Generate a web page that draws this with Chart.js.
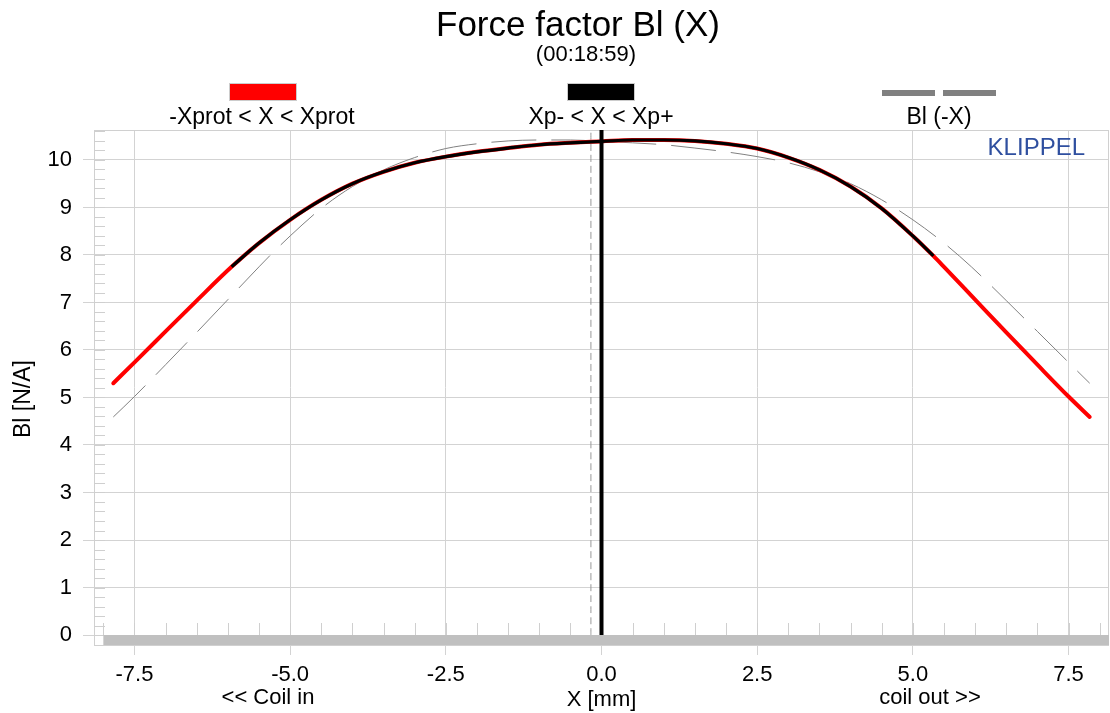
<!DOCTYPE html>
<html>
<head>
<meta charset="utf-8">
<script src="https://cdn.jsdelivr.net/npm/chart.js@4/dist/chart.umd.min.js"></script>
<style>
    html, body { margin: 0; padding: 0; background: #fff; }
</style>
</head>
<body>
<canvas id="chartBl" width="1110" height="713"></canvas>
<script>
const FONT = "'Liberation Sans', Arial, sans-serif";

// Bl(X) : déplacement (mm) et facteur de force (N/A)
const xMm = [-7.84, -7.5, -7.0, -6.5, -5.94, -5.5, -5.0, -4.5, -4.0, -3.5, -3.0, -2.5, -2.0, -1.5, -1.0, -0.5,
    0.0, 0.5, 1.0, 1.5, 2.0, 2.5, 3.0, 3.5, 4.0, 4.5, 5.0, 5.33, 5.5, 6.0, 6.5, 7.0, 7.5, 7.84];
const blValues = [5.30, 5.74, 6.39, 7.04, 7.75, 8.25, 8.74, 9.16, 9.50, 9.75, 9.94, 10.07, 10.17, 10.25, 10.32, 10.36,
    10.39, 10.42, 10.42, 10.40, 10.34, 10.24, 10.05, 9.79, 9.44, 8.98, 8.40, 7.98, 7.75, 7.06, 6.37, 5.69, 5.02, 4.59];

// Bl(-X) : courbe miroir
const xMirror = [-7.84, -7.5, -7.0, -6.5, -6.0, -5.5, -5.33, -5.0, -4.5, -4.0, -3.5, -3.0, -2.5, -2.0, -1.5, -1.0, -0.5,
    0.0, 0.5, 1.0, 1.5, 2.0, 2.5, 3.0, 3.5, 4.0, 4.5, 5.0, 5.5, 5.94, 6.5, 7.0, 7.5, 7.84];
const blMirror = [4.59, 5.02, 5.69, 6.37, 7.06, 7.75, 7.98, 8.40, 8.98, 9.44, 9.79, 10.05, 10.24, 10.34, 10.40, 10.42, 10.42,
    10.39, 10.36, 10.32, 10.25, 10.17, 10.07, 9.94, 9.75, 9.50, 9.16, 8.74, 8.25, 7.75, 7.04, 6.39, 5.74, 5.30];

const xpMinus = -5.94;
const xpPlus = 5.33;
const xRest = 0.0;
const xShift = -0.17;

const xTicks = [-7.5, -5.0, -2.5, 0.0, 2.5, 5.0, 7.5];
const yTicks = [0, 1, 2, 3, 4, 5, 6, 7, 8, 9, 10];
const xRange = [-8.15, 8.15];
const yRange = [-0.21, 10.63];

const curve = xMm.map((x, i) => ({ x: x, y: blValues[i] }));
const xpCurve = curve.filter(p => p.x >= xpMinus && p.x <= xpPlus);
const mirrorCurve = xMirror.map((x, i) => ({ x: x, y: blMirror[i] }));

const common = { showLine: true, pointRadius: 0, fill: false, cubicInterpolationMode: "monotone" };

// décor : cadre, petites graduations, bande grise, textes
const decor = {
    id: "decor",
    beforeDatasetsDraw(chart) {
        const { ctx, chartArea: a, scales: { x, y } } = chart;
        ctx.save();
        ctx.strokeStyle = "#d0d0d0";
        ctx.lineWidth = 1;
        ctx.strokeRect(a.left + 0.5, a.top + 0.5, a.right - a.left - 1, a.bottom - a.top);
        ctx.strokeStyle = "#cfcfcf";
        ctx.beginPath();
        for (let i = 0; i <= 53; i++) {
            const py = Math.round(y.getPixelForValue(i * 0.2)) + 0.5;
            ctx.moveTo(a.left, py);
            ctx.lineTo(a.left + 11, py);
        }
        const y0 = y.getPixelForValue(0);
        for (let i = -16; i <= 16; i++) {
            const px = Math.round(x.getPixelForValue(i * 0.5)) + 0.5;
            ctx.moveTo(px, y0);
            ctx.lineTo(px, y0 - 12);
        }
        ctx.stroke();
        ctx.fillStyle = "#c0c0c0";
        const xb = x.getPixelForValue(-8);
        ctx.fillRect(xb, y0, a.right - xb, a.bottom - y0);
        ctx.restore();
    },
    afterDraw(chart) {
        const { ctx, data } = chart;
        ctx.save();
        ctx.fillStyle = "#000";
        ctx.textAlign = "center";
        ctx.textBaseline = "middle";
        ctx.font = "35px " + FONT;
        ctx.fillText("Force factor Bl (X)", 578, 26);
        ctx.font = "22px " + FONT;
        ctx.fillText("(00:18:59)", 586, 55);

        // légende
        const red = data.datasets[2], black = data.datasets[0], grey = data.datasets[3];
        ctx.strokeStyle = "#cccccc";
        ctx.lineWidth = 1;
        ctx.fillStyle = red.borderColor;
        ctx.fillRect(229, 83, 68, 18);
        ctx.strokeRect(229.5, 83.5, 67, 17);
        ctx.fillStyle = black.borderColor;
        ctx.fillRect(567, 83, 68, 18);
        ctx.strokeRect(567.5, 83.5, 67, 17);
        ctx.fillStyle = grey.borderColor;
        ctx.fillRect(882, 90, 53, 6);
        ctx.fillRect(943, 90, 53, 6);
        ctx.fillStyle = "#000";
        ctx.font = "23px " + FONT;
        ctx.fillText(red.label, 262, 118);
        ctx.fillText(black.label, 601, 118);
        ctx.fillText(grey.label, 939, 118);

        ctx.font = "22px " + FONT;
        ctx.fillText("<< Coil in", 268, 698);
        ctx.fillText("coil out >>", 930, 698);

        // titre de l'axe Y
        ctx.save();
        ctx.translate(24, 399);
        ctx.rotate(-Math.PI / 2);
        ctx.font = "23px " + FONT;
        ctx.fillText("Bl [N/A]", 0, 0);
        ctx.restore();

        ctx.fillStyle = "#2f4f9f";
        ctx.textAlign = "right";
        ctx.font = "24px " + FONT;
        ctx.fillText("KLIPPEL", 1085, 148);
        ctx.restore();
    }
};

new Chart(document.getElementById("chartBl"), {
    type: "scatter",
    data: {
        datasets: [
            { ...common, label: "Xp- < X < Xp+", data: xpCurve, borderColor: "#000000", borderWidth: 3.2 },
            { ...common, label: "X = 0", data: [{ x: xRest, y: 0 }, { x: xRest, y: yRange[1] }], borderColor: "#000000", borderWidth: 4 },
            { ...common, label: "-Xprot < X < Xprot", data: curve, borderColor: "#ff0000", borderWidth: 4, borderCapStyle: "round" },
            { ...common, label: "Bl (-X)", data: mirrorCurve, borderColor: "#808080", borderWidth: 1, borderDash: [45, 15] },
            { ...common, label: "offset", data: [{ x: xShift, y: 0 }, { x: xShift, y: yRange[1] }], borderColor: "#999999", borderWidth: 1, borderDash: [7, 4] }
        ]
    },
    options: {
        responsive: false,
        devicePixelRatio: 1,
        animation: false,
        layout: { padding: { top: 130, right: 1, left: 0, bottom: 0 } },
        plugins: {
            legend: { display: false },
            tooltip: { enabled: false }
        },
        scales: {
            x: {
                type: "linear",
                min: xRange[0],
                max: xRange[1],
                afterBuildTicks: (s) => { s.ticks = xTicks.map(v => ({ value: v })); },
                afterFit: (s) => { s.height = 68; },
                grid: { color: "#d3d3d3", tickLength: 10 },
                border: { display: false },
                ticks: {
                    color: "#000",
                    font: { family: FONT, size: 22 },
                    padding: 7,
                    maxRotation: 0,
                    callback: (v) => v.toFixed(1)
                },
                title: { display: true, text: "X [mm]", color: "#000", font: { family: FONT, size: 22 }, padding: { top: 2, bottom: 0 } }
            },
            y: {
                min: yRange[0],
                max: yRange[1],
                afterBuildTicks: (s) => { s.ticks = yTicks.map(v => ({ value: v })); },
                afterFit: (s) => { s.width = 94; },
                grid: { color: "#d3d3d3", tickLength: 11 },
                border: { display: false },
                ticks: {
                    color: "#000",
                    font: { family: FONT, size: 22 },
                    padding: 11,
                    callback: (v) => v
                },
                title: { display: false }
            }
        }
    },
    plugins: [decor]
});
</script>
</body>
</html>
